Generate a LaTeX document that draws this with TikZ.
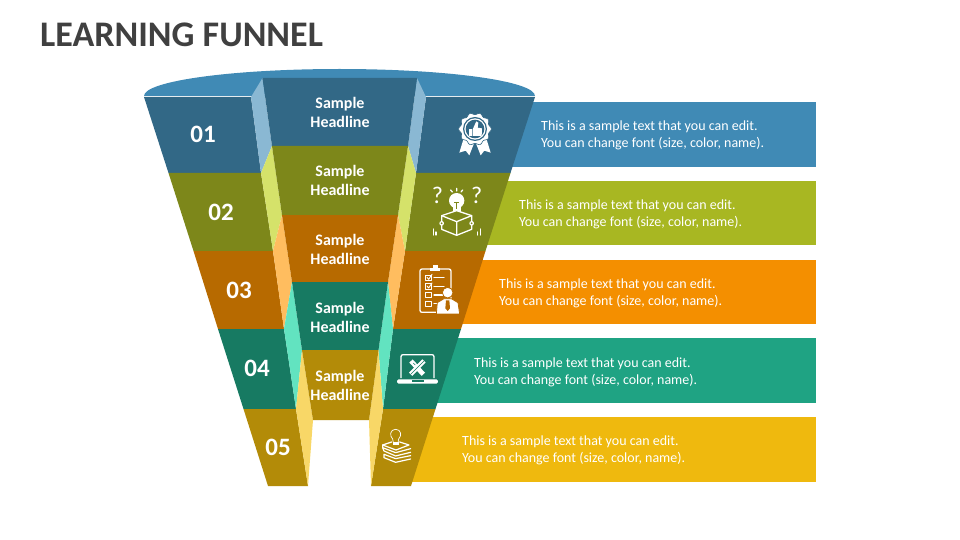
\documentclass[tikz,border=0pt]{standalone}
\usepackage{fontspec}
\setmainfont{Carlito}
\definecolor{dA}{HTML}{326886}\definecolor{lA}{HTML}{8AB8D3}\definecolor{bA}{HTML}{408AB5}
\definecolor{dB}{HTML}{7D871A}\definecolor{lB}{HTML}{D5E26A}\definecolor{bB}{HTML}{A8B722}
\definecolor{dC}{HTML}{B76A00}\definecolor{lC}{HTML}{FFBD5F}\definecolor{bC}{HTML}{F48F00}
\definecolor{dD}{HTML}{177A62}\definecolor{lD}{HTML}{62E3C0}\definecolor{bD}{HTML}{1FA383}
\definecolor{dE}{HTML}{B38B08}\definecolor{lE}{HTML}{F8D767}\definecolor{bE}{HTML}{EFB90E}
\definecolor{titlec}{HTML}{404040}
\tikzset{
  titletext/.style={anchor=west,inner sep=0pt,text=titlec,font=\fontsize{36}{40}\selectfont\bfseries},
  bartext/.style={anchor=west,inner sep=0pt,text=white,align=left,font=\fontsize{14}{17}\selectfont},
  headtext/.style={inner sep=0pt,text=white,align=center,font=\fontsize{16}{19}\selectfont\bfseries},
  numtext/.style={inner sep=0pt,text=white,font=\fontsize{25}{27}\selectfont\bfseries},
  ic/.style={draw=white,line width=1.3pt,line cap=round,line join=round},
  qtext/.style={inner sep=0pt,text=white,font=\fontsize{24}{26}\selectfont},
  zoomA/.style={shift={(400pt,-80pt)},x=0.3333pt,y=-0.3333pt},
  zoomB/.style={shift={(370pt,-255pt)},x=0.3333pt,y=-0.3333pt},
  zoomC/.style={shift={(230pt,-270pt)},x=0.3333pt,y=-0.3333pt},
}
\begin{document}
\begin{tikzpicture}[x=1pt,y=-1pt]
\useasboundingbox (0,0) rectangle (960,540);
\node[titletext] (title) at (40,34.5) {LEARNING FUNNEL};
% bars
\fill[bA] (450,102) rectangle (816,167);
\fill[bB] (450,181) rectangle (816,245);
\fill[bC] (430,260) rectangle (816,324);
\fill[bD] (410,338) rectangle (816,403);
\fill[bE] (400,417) rectangle (816,482);
% rim
\fill[bA] (144,96) arc[start angle=180,end angle=0,x radius=195.5,y radius=-27] -- cycle;
% outer left
\fill[dA] (144,97)--(251,97)--(261,173)--(168.5,173)--cycle;
\fill[dB] (168.5,173)--(261,173)--(273,251)--(193.5,251)--cycle;
\fill[dC] (193.5,251)--(273,251)--(284,329)--(218,329)--cycle;
\fill[dD] (218,329)--(284,329)--(296,409)--(243.5,409)--cycle;
\fill[dE] (243.5,409)--(296,409)--(308,486)--(268,486)--cycle;
% outer right
\fill[dA] (535,97)--(426,97)--(416,173)--(510.5,173)--cycle;
\fill[dB] (510.5,173)--(416,173)--(405,251)--(485.5,251)--cycle;
\fill[dC] (485.5,251)--(405,251)--(393,329)--(461,329)--cycle;
\fill[dD] (461,329)--(393,329)--(383,409)--(435.5,409)--cycle;
\fill[dE] (435.5,409)--(383,409)--(371,486)--(411,486)--cycle;
% light left
\fill[lA] (251,97)--(262.5,78)--(272,146)--(261,173)--cycle;
\fill[lB] (261,173)--(272,146)--(282,215)--(273,251)--cycle;
\fill[lC] (273,251)--(282,215)--(292,282)--(284,329)--cycle;
\fill[lD] (284,329)--(292,282)--(302,350)--(296,409)--cycle;
\fill[lE] (296,409)--(302,350)--(313,420)--(308,486)--cycle;
% light right
\fill[lA] (426,97)--(417,78)--(408,146)--(416,173)--cycle;
\fill[lB] (416,173)--(408,146)--(398,215)--(405,251)--cycle;
\fill[lC] (405,251)--(398,215)--(388,282)--(393,329)--cycle;
\fill[lD] (393,329)--(388,282)--(378.5,350)--(383,409)--cycle;
\fill[lE] (383,409)--(378.5,350)--(369,420)--(371,486)--cycle;
% centre
\fill[dA] (262.5,78)--(417,78)--(408,146)--(272,146)--cycle;
\fill[dB] (272,146)--(408,146)--(398,215)--(282,215)--cycle;
\fill[dC] (282,215)--(398,215)--(388,282)--(292,282)--cycle;
\fill[dD] (292,282)--(388,282)--(378.5,350)--(302,350)--cycle;
\fill[dE] (302,350)--(378.5,350)--(369,420)--(313,420)--cycle;
% centre text
\node[headtext] (h1) at (340,112.5) {Sample\\Headline};
\node[headtext] (h2) at (340,180.5) {Sample\\Headline};
\node[headtext] (h3) at (340,249.5) {Sample\\Headline};
\node[headtext] (h4) at (340,317.5) {Sample\\Headline};
\node[headtext] (h5) at (340,385.5) {Sample\\Headline};
% numbers
\node[numtext] (n1) at (203,134.5) {01};
\node[numtext] (n2) at (221,212.5) {02};
\node[numtext] (n3) at (239,290.5) {03};
\node[numtext] (n4) at (257,368.5) {04};
\node[numtext] (n5) at (278,447.5) {05};
% bar text
\node[bartext] (t1) at (541,135) {This is a sample text that you can edit.\\You can change font (size, color, name).};
\node[bartext] (t2) at (519,214) {This is a sample text that you can edit.\\You can change font (size, color, name).};
\node[bartext] (t3) at (499,293) {This is a sample text that you can edit.\\You can change font (size, color, name).};
\node[bartext] (t4) at (474,372) {This is a sample text that you can edit.\\You can change font (size, color, name).};
\node[bartext] (t5) at (462,450) {This is a sample text that you can edit.\\You can change font (size, color, name).};
% icon 1: rosette
\begin{scope}[zoomA]
  \fill[white] (192,172)--(178,218)--(197,212)--(208,226)--(224,185)--cycle;
  \fill[white] (258,172)--(272,218)--(253,212)--(242,226)--(226,185)--cycle;
  \fill[white,draw=dA,line width=0.6pt] plot[domain=0:360,samples=120,smooth] ({225+(46+3*cos(10*\x))*cos(\x)},{147+(46+3*cos(10*\x))*sin(\x)}) -- cycle;
  \fill[dA] (225,147) circle[radius=36];
  \fill[white] (225,147) circle[radius=32];
  \fill[dA] (225,147) circle[radius=28];
  \fill[white] (206,148) rectangle (215,168);
  \fill[white] (218,148)--(229,124)--(235,128)--(233,143)--(246,145)--(245,168)--(218,168)--cycle;
\end{scope}
% icon 2: bulb and book
\begin{scope}[zoomA]
  \node[qtext] (q1) at (112,345) {?};
  \node[qtext] (q2) at (230,345) {?};
  \fill[white] (170,362) circle[radius=23];
  \fill[white] (158,378) rectangle (182,402);
  \draw[dB,line width=0.8pt] (162,367)--(178,367) (170,367)--(170,388);
  \draw[ic] (152,330)--(157,336) (170,325)--(170,333) (188,330)--(183,336);
  \draw[ic,fill=dB] (125,407)--(170,392)--(215,407)--(215,448)--(170,466)--(125,448)--cycle;
  \draw[ic] (125,407)--(170,425)--(215,407) (170,425)--(170,466);
  \fill[white] (125,430) circle[radius=7] (215,430) circle[radius=7];
  \fill[dB] (125,430) circle[radius=3] (215,430) circle[radius=3];
  \draw[ic] (100,447)--(100,465) (108,456)--(108,465) (232,456)--(232,465) (241,447)--(241,465);
\end{scope}
% icon 3: clipboard and person
\begin{scope}[zoomB]
  \draw[ic,line width=1.3pt,rounded corners=2pt] (150,42) rectangle (243,172);
  \fill[white] (180,38) rectangle (211,48);
  \fill[white] (188,31) rectangle (203,40);
  \draw[ic,line width=0.7pt] (167,60) rectangle (185,76) (167,86) rectangle (185,102) (167,112) rectangle (185,128) (167,138) rectangle (185,154);
  \draw[ic,line width=0.9pt] (171,67)--(176,73)--(186,58) (171,93)--(176,99)--(186,84);
  \draw[ic] (192,68)--(222,68) (192,94)--(222,94) (192,120)--(218,120) (192,146)--(200,146);
  \fill[white,draw=dC,line width=0.8pt] (199,177)--(202,143)--(222,131)--(244,131)--(264,143)--(269,177)--cycle;
  \fill[white,draw=dC,line width=0.8pt] (233,113) circle[radius=16];
  \fill[dC] (228,136)--(238,136)--(240,160)--(233,168)--(226,160)--cycle;
\end{scope}
% icon 4: laptop
\begin{scope}[zoomB]
  \draw[ic,line width=1.3pt,rounded corners=2pt] (93,368)--(93,299)--(192,299)--(192,368);
  \fill[white,rounded corners=1.5pt] (81,373) rectangle (204,386);
  \fill[dD] (126,376) rectangle (162,380);
  \draw[white,line width=4.6pt] (123,318)--(160,358);
  \draw[white,line width=4.6pt] (162,318)--(122,358);
  \draw[dD,line width=0.5pt] (162,318)--(122,358) (130,324)--(136,330);
\end{scope}
% icon 5: bulb and books
\begin{scope}[zoomC]
  \draw[ic,line width=0.7pt] (497,478) .. controls (480,478) and (478,498) .. (488,507) -- (490,518) -- (504,518) -- (506,507) .. controls (516,498) and (514,478) .. (497,478) -- cycle;
  \fill[white] (488,517) rectangle (506,526);
  \draw[ic,line width=1.2pt] (458,525)--(485,516) (509,516)--(537,525)--(498,540)--(458,525);
  \draw[ic,line width=1.2pt] (458,533)--(497,548)--(542,536)
     (458,533)--(458,525) (462,543)--(497,558)--(542,547) (462,543)--(458,533)
     (462,553)--(497,566)--(542,557) (462,563)--(497,577)--(542,567) (462,553)--(462,563);
\end{scope}
\end{tikzpicture}
\end{document}
